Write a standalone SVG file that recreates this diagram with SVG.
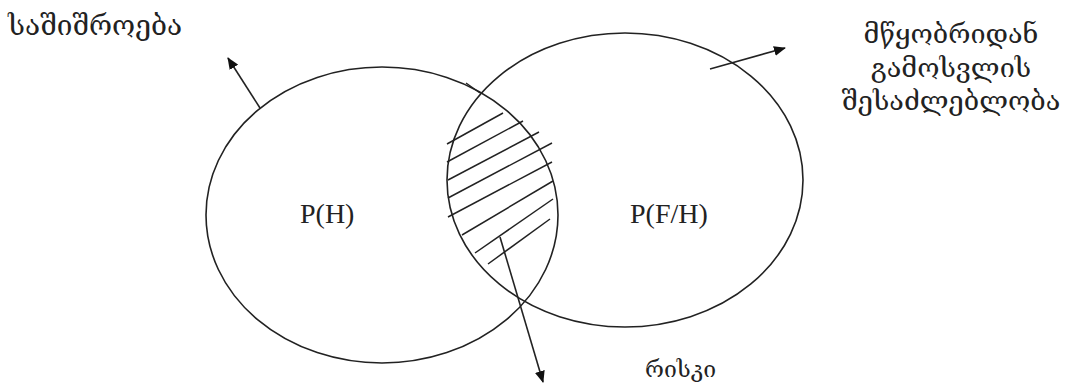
<svg xmlns="http://www.w3.org/2000/svg" width="1070" height="385" viewBox="0 0 1070 385">
<style>
.c{fill:none;stroke:#222;stroke-width:1.6}
.l{stroke:#222;stroke-width:1.6;fill:none}
.h{stroke:#222;stroke-width:1.5}
.geo{font-family:"DejaVu Serif","DejaVu Sans",serif;font-size:27px;fill:#222}
.lat{font-family:"Liberation Serif",serif;font-size:28px;fill:#222}
</style>
<defs>
<marker id="ah" viewBox="0 0 12 10" refX="11" refY="5" markerWidth="12" markerHeight="10" markerUnits="userSpaceOnUse" orient="auto">
<path d="M0,0 L12,5 L0,10 z" fill="#111"/>
</marker>
</defs>
<rect width="1070" height="385" fill="#fff"/>
<g id="hazard">
<ellipse class="c" cx="382" cy="215" rx="176" ry="148"/>
<text class="lat" x="300" y="223">P(H)</text>
</g>
<g id="escape">
<ellipse class="c" cx="625" cy="180" rx="178" ry="147"/>
<text class="lat" x="630" y="223">P(F/H)</text>
</g>
<g id="risk-area">
<line class="h" x1="447" y1="144" x2="503" y2="113"/>
<line class="h" x1="447" y1="162" x2="523" y2="121"/>
<line class="h" x1="448" y1="180" x2="539" y2="132"/>
<line class="h" x1="448" y1="198" x2="552" y2="143"/>
<line class="h" x1="448" y1="217" x2="552" y2="162"/>
<line class="h" x1="462" y1="235" x2="553" y2="181"/>
<line class="h" x1="475" y1="253" x2="553" y2="199"/>
<line class="h" x1="488" y1="264" x2="550" y2="219"/>
<line class="h" x1="466" y1="83" x2="480" y2="93"/>
</g>
<g id="connectors">
<line class="l" x1="260" y1="108" x2="228" y2="58" marker-end="url(#ah)"/>
<line class="l" x1="710" y1="69" x2="785" y2="48" marker-end="url(#ah)"/>
<line class="l" x1="500" y1="237" x2="543" y2="382" marker-end="url(#ah)"/>
</g>
<g id="labels">
<text class="geo" x="8" y="35" style="font-size:28px">საშიშროება</text>
<text class="geo" x="951" y="43" text-anchor="middle">მწყობრიდან</text>
<text class="geo" x="951" y="77" text-anchor="middle">გამოსვლის</text>
<text class="geo" x="951" y="110" text-anchor="middle">შესაძლებლობა</text>
<text class="geo" x="645" y="377" style="font-size:23px">რისკი</text>
</g>
</svg>
